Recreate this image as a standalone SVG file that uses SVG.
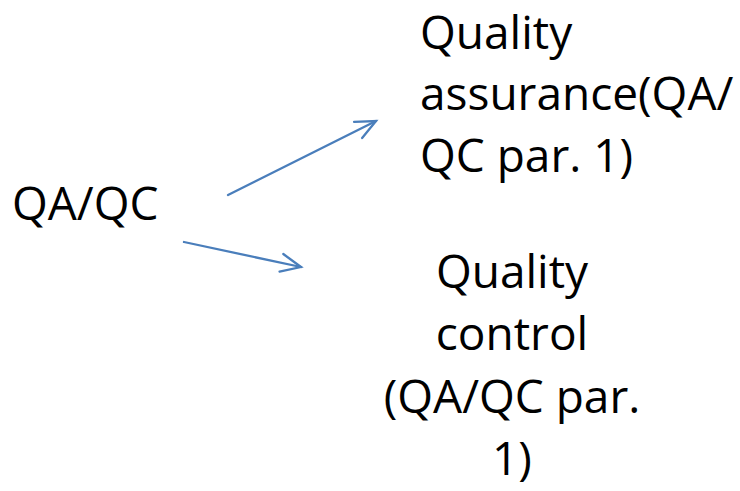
<svg xmlns="http://www.w3.org/2000/svg" width="740" height="491" viewBox="0 0 740 491">
<style>
text{font-family:"Open Sans","Noto Sans","Liberation Sans",sans-serif;font-size:46px;fill:#000}
.c{fill:none;stroke:#4a7ebb;stroke-width:2.3;stroke-linecap:round}
</style>
<defs>
<marker id="ah" viewBox="0 0 12 12" refX="11" refY="6" markerWidth="12" markerHeight="12" markerUnits="userSpaceOnUse" orient="auto" overflow="visible">
<path d="M-9,-3 L11,6 L-9,15" fill="none" stroke="#4a7ebb" stroke-width="2.3" stroke-linecap="round" stroke-linejoin="miter"/>
</marker>
</defs>
<rect width="740" height="491" fill="#fff"/>
<g id="connectors">
<line class="c" x1="228" y1="195" x2="376" y2="121" marker-end="url(#ah)"/>
<line class="c" x1="184" y1="242" x2="301" y2="267" marker-end="url(#ah)"/>
</g>
<g id="qaqc"><text x="12" y="220">QA/QC</text></g>
<g id="qa">
<text x="420" y="49">Quality</text>
<text x="420" y="110">assurance(QA/</text>
<text x="420" y="172">QC par. 1)</text>
</g>
<g id="qc" text-anchor="middle">
<text x="512" y="288">Quality</text>
<text x="512" y="350">control</text>
<text x="512" y="413">(QA/QC par.</text>
<text x="512" y="475">1)</text>
</g>
</svg>
